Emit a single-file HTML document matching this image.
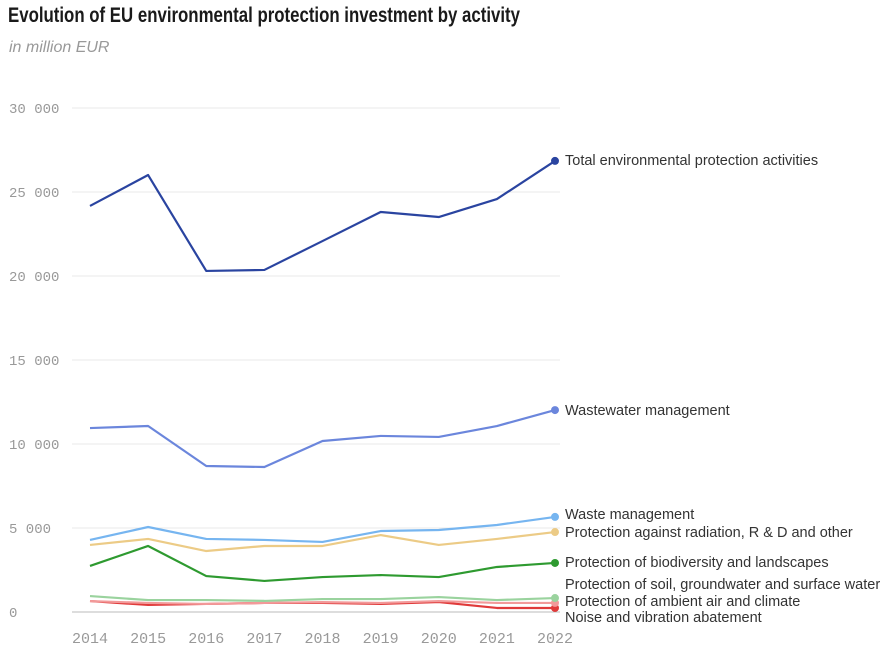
<!DOCTYPE html>
<html><head><meta charset="utf-8"><style>
body{margin:0;background:#fff;width:896px;height:650px;overflow:hidden}
svg{display:block}
</style></head><body>
<svg id="chart" width="896" height="650">
<text x="8" y="22" font-family="'Liberation Sans Narrow','Liberation Sans',sans-serif" font-weight="bold" font-size="21" fill="#1a1a1a" textLength="512" lengthAdjust="spacingAndGlyphs">Evolution of EU environmental protection investment by activity</text>
<text x="9" y="52" font-family="'Liberation Sans',sans-serif" font-style="italic" font-size="16" fill="#999">in million EUR</text>
<g id="grid"></g><g id="lines"></g><g id="labels"></g>
</svg>
<script>
const years=[2014,2015,2016,2017,2018,2019,2020,2021,2022];
const yTicks=[0,5000,10000,15000,20000,25000,30000];
const yTickLabels=["0","5 000","10 000","15 000","20 000","25 000","30 000"];
const sTotal=[24170,26010,20300,20360,22080,23810,23510,24580,26850];
const sWastewater=[10950,11070,8690,8630,10180,10480,10420,11070,12020];
const sWaste=[4290,5060,4350,4290,4170,4820,4880,5180,5660];
const sRadiation=[3990,4350,3630,3930,3930,4580,3990,4350,4760];
const sBiodiversity=[2740,3930,2140,1850,2080,2200,2080,2680,2920];
const sSoil=[950,710,710,660,770,770,890,710,830];
const sAir=[650,540,480,540,590,540,650,540,540];
const sNoise=[650,420,480,540,540,480,590,240,240];
const seriesNames=["Total environmental protection activities","Wastewater management","Waste management","Protection against radiation, R & D and other","Protection of biodiversity and landscapes","Protection of soil, groundwater and surface water","Protection of ambient air and climate","Noise and vibration abatement"];
const seriesData=[sTotal,sWastewater,sWaste,sRadiation,sBiodiversity,sSoil,sAir,sNoise];
const colors=["#2a44a0","#6b86dc","#76b5f0","#eccb86","#2e9a30","#9ad39e","#f29a9a","#e03a3a"];
const labelY=[160,410,514,532,562,584,601,617];
const NS="http://www.w3.org/2000/svg";
const x=i=>90+i*(555-90)/(years.length-1);
const y=v=>612-v*(612-108)/30000;
function mk(tag,attrs,parent,text){const e=document.createElementNS(NS,tag);for(const k in attrs)e.setAttribute(k,attrs[k]);if(text!==undefined)e.textContent=text;parent.appendChild(e);return e;}
const grid=document.getElementById('grid'),lines=document.getElementById('lines'),labels=document.getElementById('labels');
yTicks.forEach((t,i)=>{
 const l=mk('line',{x1:72,x2:560,y1:y(t),y2:y(t),stroke:t===0?'#bbb':'#e8e8e8','stroke-width':1},grid);
 
 
 const tx=mk('text',{x:9,y:y(t)+5,'font-family':"'Liberation Mono',monospace",'font-size':14,fill:'#999'},grid,yTickLabels[i]);
 
 
});
years.forEach((yr,i)=>{
 const tx=mk('text',{x:x(i),y:643,'text-anchor':'middle','font-family':"'Liberation Mono',monospace",'font-size':15,fill:'#999'},grid,yr);
 
 
});
seriesData.slice().reverse().forEach((d,ri)=>{
 const si=seriesData.length-1-ri;
 const p=mk('polyline',{points:d.map((v,i)=>x(i)+','+y(v)).join(' '),fill:'none',stroke:colors[si],'stroke-width':2.2,'stroke-linejoin':'round'},lines);
 
 
 const c=mk('circle',{cx:x(d.length-1),cy:y(d[d.length-1]),r:4,fill:colors[si]},lines);
 
 
});
seriesNames.forEach((n,i)=>{
 const t=mk('text',{x:565,y:labelY[i]+5,'font-family':"'Liberation Sans',sans-serif",'font-size':14.5,fill:'#333'},labels,n);
 
 
});
</script>
</body></html>
